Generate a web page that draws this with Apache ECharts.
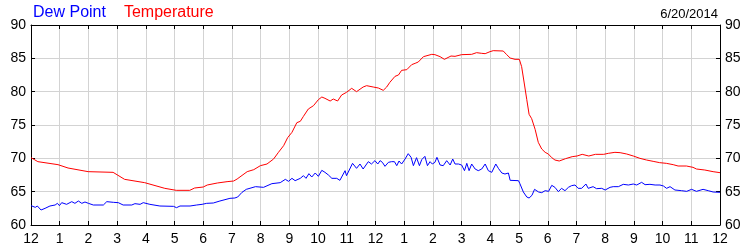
<!DOCTYPE html>
<html>
<head>
<meta charset="utf-8">
<script src="https://cdn.jsdelivr.net/npm/echarts@6/dist/echarts.min.js"></script>
<style>html,body{margin:0;padding:0;background:#fff}#c{width:750px;height:250px}</style>
</head>
<body>
<div id="c"></div>
<script>
// hours of day (0 = midnight) and readings
var tempTimes = [0.0,0.24,0.94,1.29,1.99,2.86,3.26,3.96,4.66,5.06,5.53,5.7,6.0,6.14,6.49,6.83,7.06,7.18,7.53,7.76,7.99,8.22,8.45,8.62,8.8,8.94,9.09,9.26,9.38,9.49,9.66,9.84,10.01,10.13,10.24,10.42,10.53,10.68,10.82,10.99,11.17,11.34,11.57,11.69,11.92,12.1,12.27,12.39,12.5,12.68,12.8,12.91,13.09,13.26,13.38,13.49,13.67,13.96,14.07,14.25,14.4,14.63,14.77,15.0,15.35,15.52,15.7,15.82,15.99,16.1,16.45,16.57,16.69,16.86,17.01,17.09,17.18,17.27,17.35,17.44,17.56,17.67,17.79,17.91,18.02,18.14,18.25,18.4,18.62,18.85,19.02,19.2,19.43,19.66,19.95,20.11,20.34,20.52,20.75,20.98,21.21,21.44,21.67,21.9,22.13,22.37,22.54,22.83,23.06,23.18,23.47,23.76,24.0];
var tempValues = [70.1,69.5,69.05,68.55,68.0,67.9,66.85,66.35,65.5,65.2,65.2,65.55,65.7,66.0,66.3,66.5,66.6,66.9,68.0,68.3,68.9,69.15,69.9,70.9,71.9,73.1,73.9,75.35,75.55,76.3,77.4,77.9,78.8,79.2,79.0,78.6,78.9,78.6,79.5,79.9,80.5,80.0,80.7,80.9,80.7,80.55,80.2,80.7,81.4,82.3,82.5,83.2,83.3,84.05,84.25,84.45,85.25,85.6,85.55,85.25,84.85,85.35,85.3,85.55,85.6,85.85,85.75,85.7,86.0,86.15,86.1,85.55,85.05,84.85,84.85,83.75,81.3,78.8,76.6,75.95,74.35,72.4,71.4,70.9,70.65,70.1,69.75,69.6,69.95,70.25,70.35,70.6,70.35,70.6,70.6,70.75,70.9,70.85,70.65,70.35,70.0,69.75,69.55,69.35,69.25,69.05,68.85,68.85,68.65,68.4,68.25,68.0,67.85];

var dewTimes = [0.0,0.15,0.22,0.35,0.49,0.66,0.84,0.92,0.99,1.07,1.24,1.42,1.53,1.65,1.77,1.88,2.0,2.17,2.52,2.64,2.87,3.04,3.21,3.51,3.56,3.62,3.8,3.91,4.14,4.49,4.96,5.07,5.19,5.54,5.77,5.96,6.12,6.35,6.58,6.93,7.1,7.2,7.35,7.5,7.82,8.1,8.39,8.68,8.86,8.97,9.09,9.2,9.38,9.49,9.58,9.68,9.78,9.9,10.01,10.13,10.24,10.36,10.48,10.65,10.76,10.94,10.99,11.2,11.34,11.46,11.57,11.75,11.86,11.98,12.08,12.16,12.24,12.33,12.45,12.56,12.66,12.74,12.82,12.91,13.03,13.14,13.24,13.32,13.43,13.53,13.61,13.72,13.81,13.9,13.98,14.07,14.14,14.25,14.36,14.48,14.6,14.69,14.77,14.89,15.0,15.1,15.18,15.26,15.35,15.47,15.58,15.7,15.82,15.93,16.05,16.19,16.28,16.4,16.51,16.63,16.69,16.98,17.03,17.15,17.27,17.35,17.45,17.54,17.68,17.79,17.91,18.03,18.14,18.25,18.37,18.48,18.6,18.72,18.83,18.95,19.06,19.18,19.33,19.41,19.58,19.7,19.88,20.0,20.17,20.28,20.46,20.63,20.81,20.98,21.1,21.27,21.39,21.56,21.74,21.91,22.03,22.14,22.26,22.43,22.66,22.84,23.01,23.18,23.41,23.59,23.76,24.0];
var dewValues = [62.9,62.65,62.85,62.25,62.5,62.85,63.0,63.25,62.9,63.35,63.1,63.5,63.25,63.6,63.25,63.45,63.25,63.0,63.0,63.5,63.4,63.35,63.0,63.0,62.8,63.2,63.1,63.35,63.1,62.85,62.8,62.6,62.85,62.85,63.0,63.1,63.25,63.3,63.6,64.0,64.05,64.2,64.9,65.35,65.75,65.65,66.2,66.35,66.85,66.55,67.0,66.65,67.0,67.4,67.0,67.7,67.2,67.8,67.3,68.2,67.9,67.5,67.0,67.0,66.7,68.15,67.4,69.25,68.5,69.15,68.4,69.5,69.15,69.65,69.15,69.65,69.4,68.8,69.4,69.5,69.5,68.9,69.6,69.15,69.9,70.7,70.15,68.9,70.1,68.9,69.8,70.3,68.9,69.5,69.15,69.4,70.15,69.0,68.9,69.65,69.0,69.9,69.15,69.15,69.0,68.15,69.25,68.15,69.15,68.4,68.15,68.4,69.15,68.15,67.9,69.15,68.5,67.8,67.65,67.8,66.7,66.65,66.2,64.95,64.2,64.05,64.45,65.35,64.95,64.85,65.15,65.05,65.95,65.65,65.0,65.5,65.15,65.65,65.9,66.0,65.5,65.5,66.15,65.5,65.75,65.45,65.5,65.25,65.65,65.75,65.75,66.1,66.0,66.15,66.0,66.4,66.05,66.1,66.0,66.0,65.85,65.5,65.75,65.25,65.15,65.05,65.35,65.05,65.35,65.15,64.95,64.9];

var yTicks = [60, 65, 70, 75, 80, 85, 90];
var hourLabels = ['12','1','2','3','4','5','6','7','8','9','10','11','12','1','2','3','4','5','6','7','8','9','10','11','12'];

function pairs(t, v) { return t.map(function (x, i) { return [x, v[i]]; }); }

var chart = echarts.init(document.getElementById('c'), null, { renderer: 'canvas' });
var font = 'Liberation Sans, Arial, sans-serif';
var axisLineStyle = { color: '#000', width: 1 };
chart.setOption({
  animation: false,
  backgroundColor: '#fff',
  title: [
    { text: '{a|Dew Point}{b|Temperature}', left: 28, top: 0,
      textStyle: { fontWeight: 'normal', rich: {
        a: { color: '#0000ff', fontSize: 16, fontFamily: font, fontWeight: 'normal' },
        b: { color: '#ff0000', fontSize: 16, fontFamily: font, fontWeight: 'normal', padding: [0, 0, 0, 18] } } } },
    { text: '6/20/2014', right: 27, top: 3, textStyle: { color: '#000', fontSize: 13, fontWeight: 'normal', fontFamily: font } }
  ],
  grid: { left: 31, right: 30, top: 25, bottom: 25, show: false },
  xAxis: [
    { type: 'value', min: 0, max: 24, interval: 1, position: 'bottom',
      axisLine: { show: true, lineStyle: axisLineStyle, onZero: false },
      axisTick: { show: true, inside: true, length: 4, lineStyle: { color: '#000' } },
      axisLabel: { color: '#000', fontSize: 14, fontFamily: font, margin: 7,
        formatter: function (v) { return hourLabels[Math.round(v)]; } },
      splitLine: { show: true, lineStyle: { color: '#d3d3d3', width: 1 } } },
    { type: 'value', min: 0, max: 24, interval: 1, position: 'top',
      axisLine: { show: true, lineStyle: axisLineStyle, onZero: false },
      axisTick: { show: true, inside: true, length: 4, lineStyle: { color: '#000' } },
      axisLabel: { show: false }, splitLine: { show: false } }
  ],
  yAxis: [
    { type: 'value', min: yTicks[0], max: yTicks[yTicks.length - 1], interval: 5, position: 'left',
      axisLine: { show: true, lineStyle: axisLineStyle, onZero: false },
      axisTick: { show: true, inside: true, length: 4, lineStyle: { color: '#000' } },
      axisLabel: { color: '#000', fontSize: 14, fontFamily: font, margin: 5 },
      splitLine: { show: true, lineStyle: { color: '#d3d3d3', width: 1 } } },
    { type: 'value', min: yTicks[0], max: yTicks[yTicks.length - 1], interval: 5, position: 'right',
      axisLine: { show: true, lineStyle: axisLineStyle, onZero: false },
      axisTick: { show: true, inside: true, length: 4, lineStyle: { color: '#000' } },
      axisLabel: { color: '#000', fontSize: 14, fontFamily: font, margin: 5 },
      splitLine: { show: false } }
  ],
  series: [
    { name: 'Temperature', type: 'line', data: pairs(tempTimes, tempValues), showSymbol: false,
      lineStyle: { color: '#ff0000', width: 1 }, itemStyle: { color: '#ff0000' } },
    { name: 'Dew Point', type: 'line', data: pairs(dewTimes, dewValues), showSymbol: false,
      lineStyle: { color: '#0000ff', width: 1 }, itemStyle: { color: '#0000ff' } }
  ]
});
</script>
</body>
</html>
